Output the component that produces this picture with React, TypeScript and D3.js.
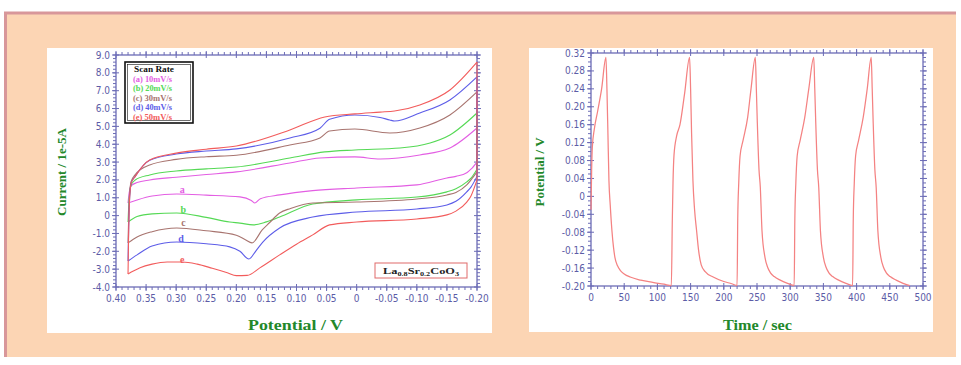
import * as d3 from "d3";

// cyclic voltammetry, [potential V, current 1e-5 A]
// anodic branches run 0.38 -> -0.20, cathodic branches run -0.20 -> 0.38
const cvAUp: [number, number][] = [
  [0.38, 0.71], [0.378, 1.3], [0.374, 1.7], [0.365, 1.85], [0.344, 2.0], [0.3, 2.15], [0.25, 2.3], [0.2, 2.45],
  [0.111, 2.95], [0.061, 3.23], [0.003, 3.29], [-0.039, 3.17], [-0.105, 3.4], [-0.155, 3.79], [-0.2, 4.91],
];
const cvALow: [number, number][] = [
  [-0.2, 3.0], [-0.19, 2.6], [-0.183, 2.4], [-0.165, 2.2], [-0.15, 2.11], [-0.1, 1.72], [0.0, 1.55], [0.073, 1.4],
  [0.128, 1.16], [0.16, 0.95], [0.169, 0.71], [0.175, 0.85], [0.194, 1.05], [0.25, 1.15], [0.299, 1.21],
  [0.34, 1.1], [0.365, 0.88], [0.38, 0.71],
];
const cvBUp: [number, number][] = [
  [0.38, -0.36], [0.378, 1.0], [0.375, 1.7], [0.368, 2.0], [0.344, 2.28], [0.3, 2.5], [0.25, 2.62], [0.2, 2.72],
  [0.111, 3.23], [0.053, 3.57], [0.003, 3.68], [-0.072, 3.79], [-0.122, 4.07], [-0.155, 4.52], [-0.2, 5.75],
];
const cvBLow: [number, number][] = [
  [-0.2, 2.6], [-0.19, 2.1], [-0.183, 1.89], [-0.165, 1.5], [-0.15, 1.33], [-0.1, 1.04], [0.0, 0.88], [0.073, 0.65],
  [0.128, -0.08], [0.15, -0.35], [0.172, -0.52], [0.194, -0.42], [0.211, -0.36], [0.25, -0.1], [0.299, 0.15],
  [0.34, 0.1], [0.365, -0.05], [0.38, -0.36],
];
const cvCUp: [number, number][] = [
  [0.38, -1.53], [0.378, 0.8], [0.375, 1.9], [0.368, 2.3], [0.344, 2.84], [0.3, 3.15], [0.25, 3.3], [0.2, 3.38],
  [0.111, 3.96], [0.061, 4.35], [0.045, 4.74], [0.003, 4.85], [-0.055, 4.63], [-0.105, 4.91], [-0.155, 5.64], [-0.2, 6.93],
];
const cvCLow: [number, number][] = [
  [-0.2, 2.45], [-0.19, 2.0], [-0.183, 1.72], [-0.165, 1.3], [-0.15, 1.16], [-0.1, 0.93], [0.0, 0.76], [0.073, 0.71],
  [0.11, 0.4], [0.128, 0.15], [0.145, -0.4], [0.157, -0.8], [0.174, -1.53], [0.185, -1.35], [0.2, -1.1],
  [0.25, -0.85], [0.299, -0.69], [0.34, -0.9], [0.365, -1.2], [0.38, -1.53],
];
const cvDUp: [number, number][] = [
  [0.38, -2.54], [0.378, 0.5], [0.375, 1.8], [0.368, 2.2], [0.344, 3.1], [0.3, 3.45], [0.25, 3.62], [0.2, 3.74],
  [0.111, 4.35], [0.061, 4.9], [0.045, 5.4], [0.003, 5.64], [-0.039, 5.5], [-0.055, 5.36], [-0.063, 5.3],
  [-0.105, 5.75], [-0.155, 6.48], [-0.2, 7.77],
];
const cvDLow: [number, number][] = [
  [-0.2, 2.2], [-0.19, 1.6], [-0.183, 1.33], [-0.165, 0.8], [-0.15, 0.6], [-0.1, 0.37], [0.0, 0.2], [0.073, -0.08],
  [0.128, -0.69], [0.156, -1.48], [0.168, -2.0], [0.179, -2.43], [0.194, -2.0], [0.211, -1.75], [0.25, -1.58],
  [0.299, -1.48], [0.34, -1.7], [0.365, -2.2], [0.38, -2.54],
];
const cvEUp: [number, number][] = [
  [0.38, -3.27], [0.378, 0.5], [0.375, 1.8], [0.368, 2.2], [0.344, 3.12], [0.3, 3.5], [0.25, 3.72], [0.2, 3.9],
  [0.111, 4.8], [0.053, 5.53], [0.003, 5.7], [-0.039, 5.8], [-0.063, 5.86], [-0.105, 6.2], [-0.155, 7.04], [-0.2, 8.6],
];
const cvELow: [number, number][] = [
  [-0.2, 2.0], [-0.19, 1.1], [-0.183, 0.76], [-0.165, 0.25], [-0.15, 0.04], [-0.1, -0.19], [0.0, -0.36], [0.045, -0.52],
  [0.073, -1.08], [0.1, -1.6], [0.128, -2.2], [0.161, -2.93], [0.182, -3.35], [0.2, -3.36], [0.215, -3.2],
  [0.24, -2.95], [0.265, -2.72], [0.29, -2.6], [0.315, -2.6], [0.34, -2.72], [0.36, -2.92], [0.372, -3.12], [0.38, -3.27],
];
const cvSeries = [
  { up: cvAUp, low: cvALow }, { up: cvBUp, low: cvBLow }, { up: cvCUp, low: cvCLow },
  { up: cvDUp, low: cvDLow }, { up: cvEUp, low: cvELow },
];
const scanRates = ["(a) 10mV/s", "(b) 20mV/s", "(c) 30mV/s", "(d) 40mV/s", "(e) 50mV/s"];
const curveLetters = ["a", "b", "c", "d", "e"];

// galvanostatic charge/discharge, [time s, potential V]
const gcd: [number, number][] = [
  [0, -0.03], [1, 0.06], [2, 0.11], [5, 0.15], [10, 0.19], [16, 0.24], [22.5, 0.31],
  [24, 0.24], [25.5, 0.14], [27, 0.036], [29, -0.02], [31.5, -0.076], [34, -0.115], [36, -0.136], [40, -0.155],
  [44, -0.165], [50, -0.173], [59, -0.18], [75, -0.187], [93, -0.192], [110, -0.196], [121, -0.199],
  [122.5, -0.05], [123.5, 0.03], [125, 0.092], [129, 0.135], [134, 0.16], [141, 0.23], [148.5, 0.31],
  [150, 0.24], [151.5, 0.14], [153.5, 0.036], [156, -0.03], [159, -0.076], [162, -0.12], [166, -0.153],
  [172, -0.168], [184, -0.18], [200, -0.19], [212, -0.195], [220, -0.199],
  [221, -0.05], [222.5, 0.03], [224.5, 0.09], [229, 0.125], [236, 0.177], [241, 0.24], [247.5, 0.31],
  [249, 0.24], [250.5, 0.164], [253, 0.06], [255, 0.02], [257.5, -0.076], [262, -0.136], [266, -0.158],
  [270, -0.17], [276, -0.179], [285, -0.187], [296, -0.194], [306, -0.199],
  [307, -0.05], [308.5, 0.03], [310.5, 0.09], [315, 0.125], [322, 0.177], [328, 0.24], [335.5, 0.31],
  [337, 0.24], [338.5, 0.164], [341, 0.06], [343, 0.02], [345.5, -0.076], [350, -0.136], [354, -0.158],
  [358, -0.17], [364, -0.179], [373, -0.187], [384, -0.194], [394, -0.199],
  [395, -0.05], [396.5, 0.03], [398.5, 0.09], [403, 0.125], [410, 0.177], [416, 0.24], [422, 0.31],
  [423.5, 0.24], [425, 0.164], [427.5, 0.06], [429.5, 0.02], [432, -0.076], [436.5, -0.136], [440.5, -0.158],
  [444.5, -0.17], [450.5, -0.179], [459.5, -0.187], [470, -0.194], [480, -0.199],
];

const cvXTicks = [0.4, 0.35, 0.3, 0.25, 0.2, 0.15, 0.1, 0.05, 0, -0.05, -0.1, -0.15, -0.2];
const cvYTicks = [9, 8, 7, 6, 5, 4, 3, 2, 1, 0, -1, -2, -3, -4];
const gcdXTicks = [0, 50, 100, 150, 200, 250, 300, 350, 400, 450, 500];
const gcdYTicks = [0.32, 0.28, 0.24, 0.2, 0.16, 0.12, 0.08, 0.04, 0, -0.04, -0.08, -0.12, -0.16, -0.2];

const curveColors = ["#e35ee3", "#55d955", "#a8746f", "#5d5de8", "#f25c5c"];
const axisColor = "#6c6cb6";
const labelColor = "#5c5ca6";
const titleColor = "#23882a";
const tickFont = "'Liberation Sans Narrow', 'DejaVu Sans Condensed', sans-serif";
const serif = "'Liberation Serif', 'DejaVu Serif', serif";

type Scale = d3.ScaleLinear<number, number>;

function Box({ x, y, xMajor, xMinor, yMajor, yMinor, fx, fy }: {
  x: Scale; y: Scale; xMajor: number[]; xMinor: number[]; yMajor: number[]; yMinor: number[];
  fx: (v: number) => string; fy: (v: number) => string;
}) {
  const [xl, xr] = x.range();
  const [yb, yt] = y.range();
  const seg = (k: string, x1: number, y1: number, x2: number, y2: number) => (
    <line key={k} x1={x1} y1={y1} x2={x2} y2={y2} stroke={axisColor} strokeWidth={1} />
  );
  return (
    <g>
      <rect x={xl} y={yt} width={xr - xl} height={yb - yt} fill="none" stroke={axisColor} strokeWidth={1.3} />
      {xMinor.map((v, i) => (
        <g key={"xm" + i}>
          {seg("b", x(v), yb, x(v), yb + 3)}
          {seg("t", x(v), yt, x(v), yt - 3)}
        </g>
      ))}
      {yMinor.map((v, i) => (
        <g key={"ym" + i}>
          {seg("l", xl, y(v), xl - 3, y(v))}
          {seg("r", xr, y(v), xr + 3, y(v))}
        </g>
      ))}
      {xMajor.map((v, i) => (
        <g key={"xM" + i}>
          {seg("b", x(v), yb - 3, x(v), yb + 4)}
          {seg("t", x(v), yt + 3, x(v), yt - 4)}
          <text x={x(v)} y={yb + 15} textAnchor="middle" fontSize={10} fontFamily={tickFont} fill={labelColor}>{fx(v)}</text>
        </g>
      ))}
      {yMajor.map((v, i) => (
        <g key={"yM" + i}>
          {seg("l", xl + 3, y(v), xl - 4, y(v))}
          {seg("r", xr - 3, y(v), xr + 4, y(v))}
          <text x={xl - 6} y={y(v)} dy="0.35em" textAnchor="end" fontSize={10} fontFamily={tickFont} fill={labelColor}>{fy(v)}</text>
        </g>
      ))}
    </g>
  );
}

export default function App() {
  const W = 961, H = 365;

  // left: CV
  const xL = d3.scaleLinear().domain([0.4, -0.2]).range([116, 477]);
  const yL = d3.scaleLinear().domain([-4, 9]).range([287, 55]);
  const cvLine = d3.line<[number, number]>().x(d => xL(d[0])).y(d => yL(d[1])).curve(d3.curveMonotoneX);
  const straight = d3.line<[number, number]>().x(d => xL(d[0])).y(d => yL(d[1]));

  // right: GCD
  const xR = d3.scaleLinear().domain([0, 500]).range([591, 923]);
  const yR = d3.scaleLinear().domain([-0.2, 0.32]).range([286, 53]);
  const gcdLine = d3.line<[number, number]>().x(d => xR(d[0])).y(d => yR(d[1])).curve(d3.curveMonotoneX);

  const cvXMinor = d3.range(-20, 41).map(k => k / 100);
  const cvYMinor = d3.range(-20, 46).map(k => k / 5);
  const gcdXMinor = d3.range(0, 51).map(k => k * 10);
  const gcdYMinor = d3.range(-20, 33).map(k => k / 100);

  const letterPos: [number, number][] = [[0.29, 1.27], [0.288, 0.15], [0.288, -0.58], [0.292, -1.48], [0.29, -2.65]];

  return (
    <svg width={W} height={H} style={{ position: "absolute", left: 0, top: 0 }}>
      <rect x={0} y={0} width={W} height={H} fill="#ffffff" />
      <rect x={4} y={12} width={952} height={345} fill="#fcd5b4" />
      <line x1={4} y1={13} x2={956} y2={13} stroke="#d8979a" strokeWidth={3} />
      <line x1={5.5} y1={12} x2={5.5} y2={357} stroke="#d8979a" strokeWidth={3} />

      {/* left panel */}
      <rect x={47} y={48} width={445} height={285} fill="#ffffff" />
      <Box x={xL} y={yL} xMajor={cvXTicks} xMinor={cvXMinor} yMajor={cvYTicks} yMinor={cvYMinor}
        fx={v => (v === 0 ? "0" : v.toFixed(2))} fy={v => (v === 0 ? "0" : v.toFixed(1))} />
      {cvSeries.map((s, i) => (
        <g key={i} fill="none" stroke={curveColors[i]} strokeWidth={1.1}>
          <path d={cvLine(s.up) ?? ""} />
          <path d={straight([s.up[s.up.length - 1], s.low[0]]) ?? ""} />
          <path d={cvLine([...s.low].reverse()) ?? ""} />
        </g>
      ))}
      {curveLetters.map((l, i) => (
        <text key={l} x={xL(letterPos[i][0])} y={yL(letterPos[i][1])} textAnchor="middle" fontSize={10}
          fontWeight="bold" fontFamily={serif} fill={curveColors[i]}>{l}</text>
      ))}
      <rect x={125} y={62} width={68} height={61} fill="#ffffff" stroke="#111" strokeWidth={1.6} />
      <rect x={127.5} y={64.5} width={63} height={56} fill="none" stroke="#111" strokeWidth={0.6} />
      <text x={134} y={72} fontSize={8.5} fontWeight="bold" fontFamily={serif} fill="#111" textLength={40} lengthAdjust="spacingAndGlyphs">Scan Rate</text>
      {scanRates.map((r, i) => (
        <text key={r} x={133} y={81.5 + i * 9.5} fontSize={8.5} fontWeight="bold" fontFamily={serif} fill={curveColors[i]}
          textLength={39} lengthAdjust="spacingAndGlyphs">{r}</text>
      ))}
      <rect x={375} y={263} width={92} height={15} fill="#ffffff" stroke="#e06a6a" strokeWidth={1} />
      <text x={383} y={274} fontSize={9} fontWeight="bold" fontFamily={serif} fill="#222" textLength={76} lengthAdjust="spacingAndGlyphs">
        La<tspan fontSize={6} dy={2}>0.8</tspan><tspan dy={-2}>Sr</tspan><tspan fontSize={6} dy={2}>0.2</tspan><tspan dy={-2}>CoO</tspan><tspan fontSize={6} dy={2}>3</tspan>
      </text>
      <text transform="translate(66,172) rotate(-90)" textAnchor="middle" fontSize={13} fontWeight="bold" fontFamily={serif} fill={titleColor}>Current / 1e-5A</text>
      <text x={248} y={330} fontSize={14} fontWeight="bold" fontFamily={serif} fill={titleColor} textLength={95} lengthAdjust="spacingAndGlyphs">Potential / V</text>

      {/* right panel */}
      <rect x={529} y={48} width={404} height={284} fill="#ffffff" />
      <Box x={xR} y={yR} xMajor={gcdXTicks} xMinor={gcdXMinor} yMajor={gcdYTicks} yMinor={gcdYMinor}
        fx={v => String(v)} fy={v => (v === 0 ? "0" : v.toFixed(2))} />
      <path d={gcdLine(gcd) ?? ""} fill="none" stroke="#f48282" strokeWidth={1.25} />
      <text transform="translate(544,172) rotate(-90)" textAnchor="middle" fontSize={13} fontWeight="bold" fontFamily={serif} fill={titleColor}>Potential / V</text>
      <text x={723} y={330} fontSize={14} fontWeight="bold" fontFamily={serif} fill={titleColor} textLength={69} lengthAdjust="spacingAndGlyphs">Time / sec</text>
    </svg>
  );
}
